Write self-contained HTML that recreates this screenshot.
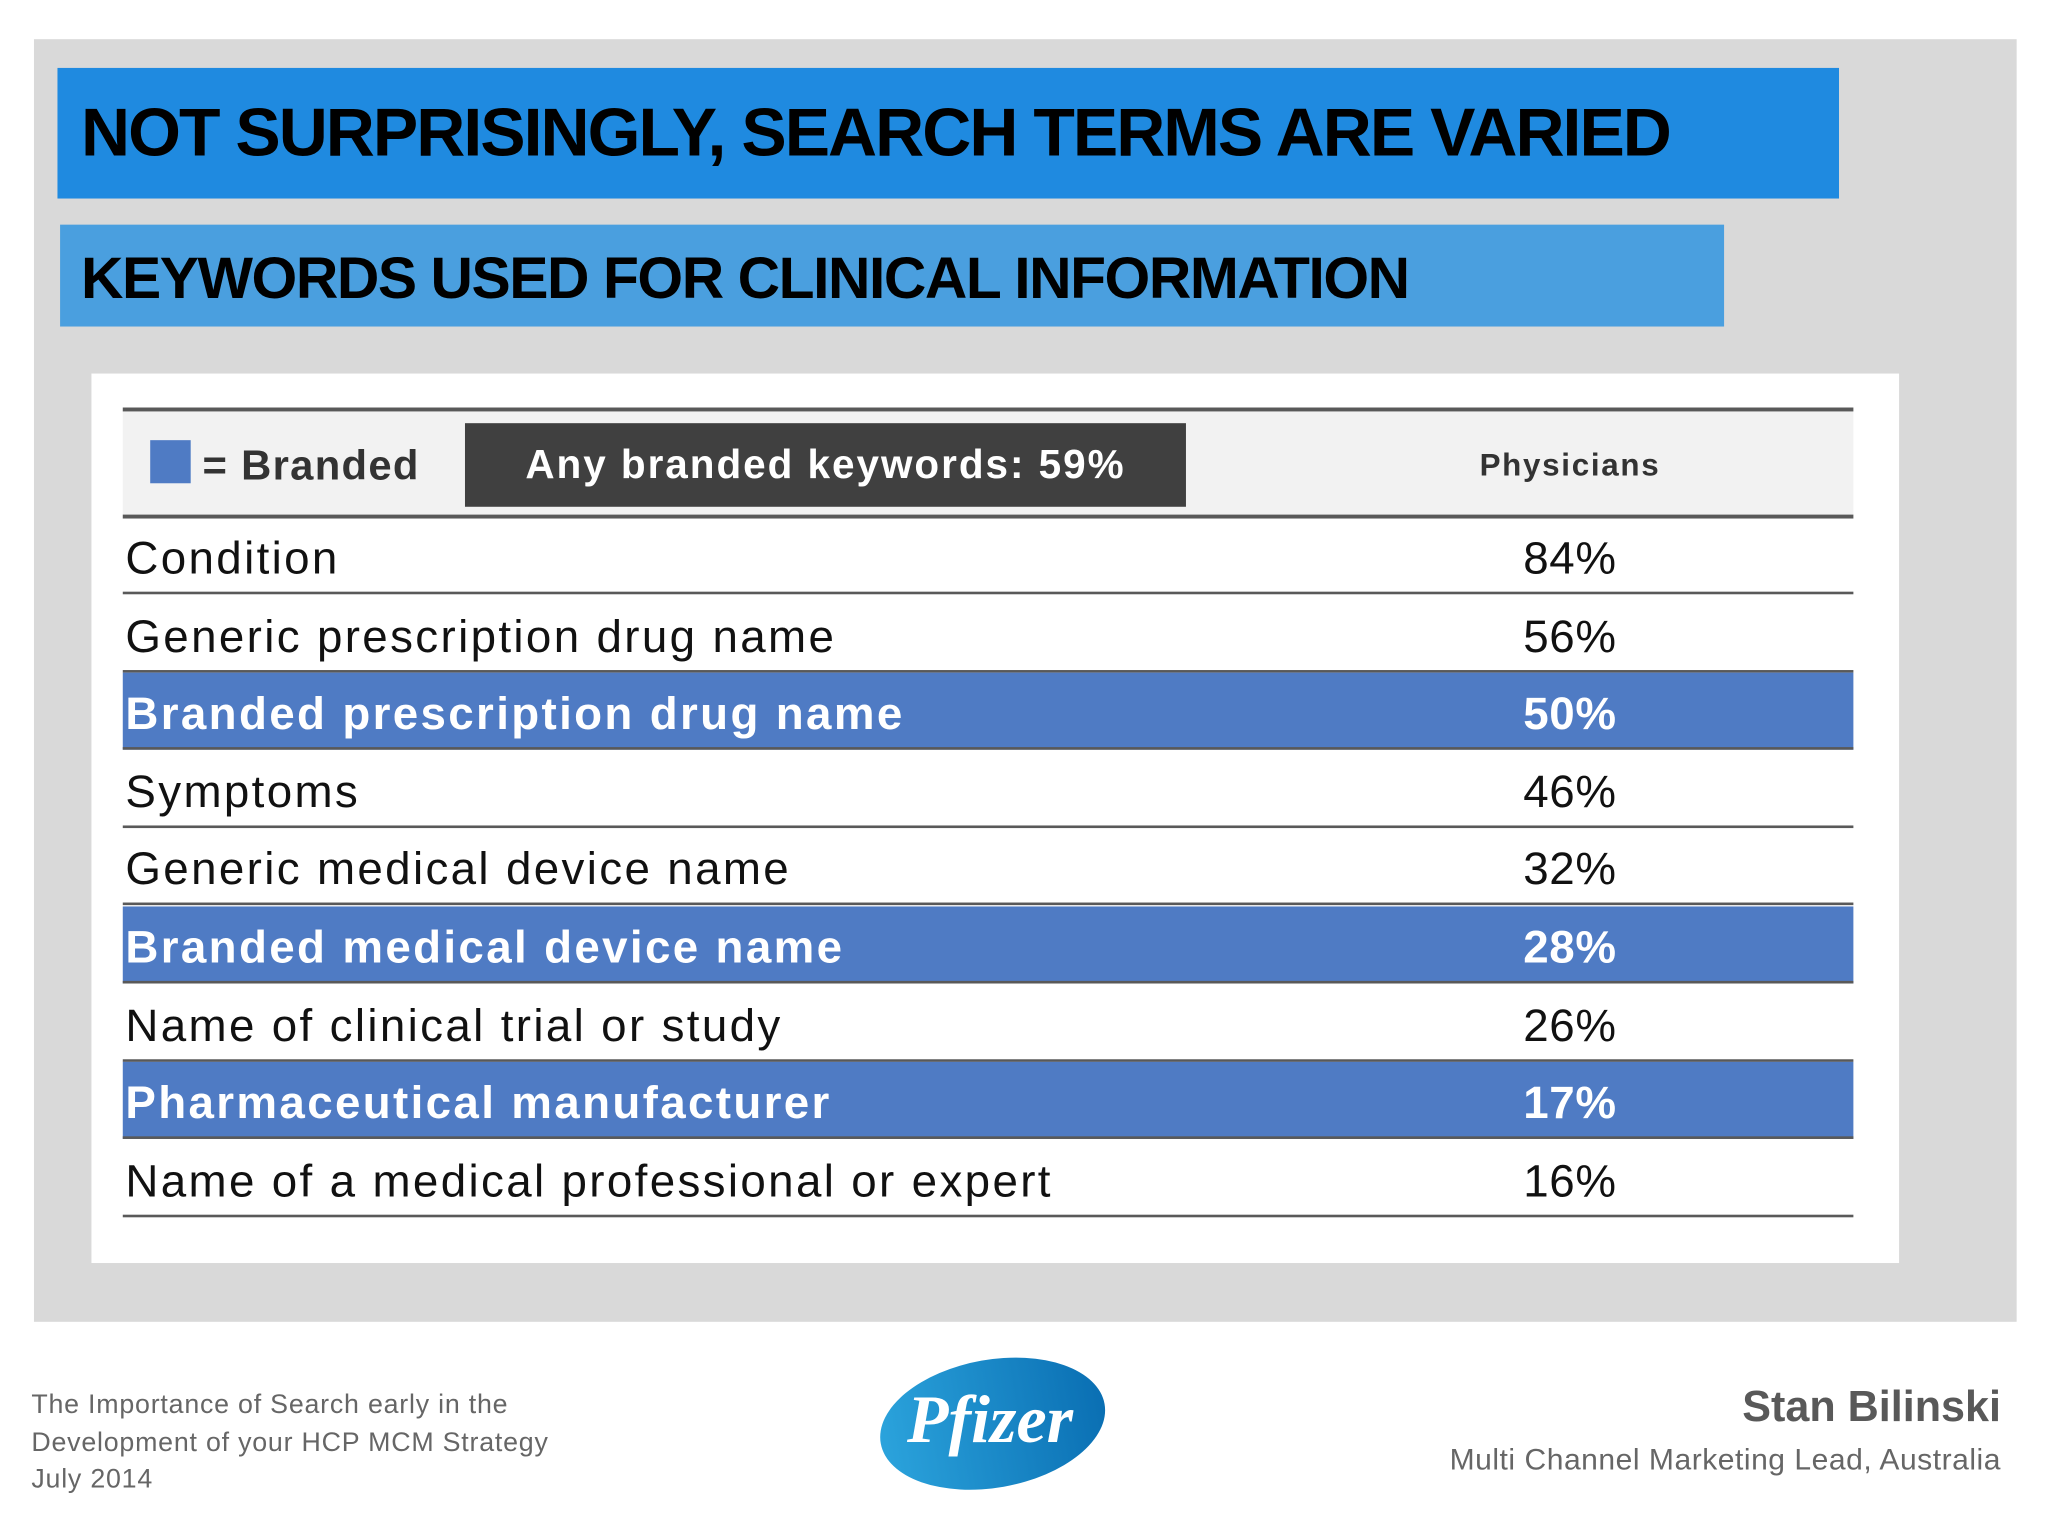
<!DOCTYPE html>
<html><head><meta charset="utf-8">
<style>
html,body{margin:0;padding:0;background:#fff;}
body{width:2048px;height:1536px;overflow:hidden;position:relative;font-family:"Liberation Sans","DejaVu Sans",sans-serif;}
#s{position:absolute;left:0;top:0;width:1568px;height:1176px;transform:scale(1.30612);transform-origin:0 0;}
.a{position:absolute;}
.row{position:absolute;left:94px;width:1325px;height:59px;border-bottom:2px solid #595959;box-sizing:border-box;}
.lab{position:absolute;left:2px;top:12px;font-size:35px;color:#111;white-space:nowrap;letter-spacing:1.8px;}
.val{position:absolute;left:1058px;width:100px;text-align:center;top:12px;font-size:35px;color:#111;letter-spacing:0.5px;}
.br{background:#4f7bc4;}
.br .lab,.br .val{color:#fff;font-weight:bold;}
</style></head><body>
<div id="s">
<div class="a" style="left:26px;top:30px;width:1518px;height:982px;background:#d9d9d9"></div>
<div class="a" style="left:44px;top:52px;width:1364px;height:100px;background:#1f8ae0"></div>
<div class="a" style="left:62px;top:72px;font-size:52px;font-weight:bold;color:#000;white-space:nowrap;letter-spacing:-1.5px">NOT SURPRISINGLY, SEARCH TERMS ARE VARIED</div>
<div class="a" style="left:46px;top:172px;width:1274px;height:78px;background:#4a9fdf"></div>
<div class="a" style="left:62px;top:187px;font-size:45px;font-weight:bold;color:#000;white-space:nowrap;letter-spacing:-1.1px">KEYWORDS USED FOR CLINICAL INFORMATION</div>
<div class="a" style="left:70px;top:286px;width:1384px;height:681px;background:#fff"></div>
<div class="a" style="left:94px;top:312px;width:1325px;height:85px;background:#f2f2f2;border-top:3px solid #595959;border-bottom:3px solid #595959;box-sizing:border-box"></div>
<div class="a" style="left:115px;top:337px;width:31px;height:33px;background:#4f7bc4"></div>
<div class="a" style="left:155px;top:338px;font-size:32px;font-weight:bold;color:#333;white-space:nowrap;letter-spacing:1px">= Branded</div>
<div class="a" style="left:356px;top:324px;width:552px;height:64px;background:#404040;color:#fff;font-size:31px;font-weight:bold;text-align:center;line-height:64px;white-space:nowrap;letter-spacing:1.5px">Any branded keywords: 59%</div>
<div class="a" style="left:1102px;top:343px;width:200px;text-align:center;font-size:24px;font-weight:bold;color:#333;letter-spacing:1.3px">Physicians</div>
<div id="rows"></div>
<div class="a" style="left:24px;top:1062px;font-size:20.5px;line-height:28.5px;color:#666;white-space:nowrap;letter-spacing:0.6px">The Importance of Search early in the<br>Development of your HCP MCM Strategy<br>July 2014</div>
<svg class="a" style="left:670px;top:1038px" width="180" height="105" viewBox="0 0 180 105">
<defs><linearGradient id="g" x1="0" y1="0" x2="1" y2="0"><stop offset="0" stop-color="#2ba3dc"/><stop offset="1" stop-color="#0a6fb3"/></linearGradient></defs>
<ellipse cx="90" cy="52" rx="87" ry="49" fill="url(#g)" transform="rotate(-10 90 52)"/>
<text x="88" y="66" text-anchor="middle" font-size="52" font-weight="bold" font-style="italic" fill="#fff" font-family="Liberation Serif,serif">Pfizer</text>
</svg>
<div class="a" style="right:36px;top:1058px;font-size:33px;font-weight:bold;color:#595959;white-space:nowrap">Stan Bilinski</div>
<div class="a" style="right:36px;top:1104px;font-size:23px;color:#666;white-space:nowrap;letter-spacing:0.4px">Multi Channel Marketing Lead, Australia</div>
</div>
<script>
const categories=["Condition","Generic prescription drug name","Branded prescription drug name","Symptoms","Generic medical device name","Branded medical device name","Name of clinical trial or study","Pharmaceutical manufacturer","Name of a medical professional or expert"];
const values=[84,56,50,46,32,28,26,17,16];
const branded=[false,false,true,false,false,true,false,true,false];
const c=document.getElementById('rows');
for(let i=0;i<categories.length;i++){
 const r=document.createElement('div');
 r.className='row'+(branded[i]?' br':'');
 r.style.top=(396+i*59.6)+'px';
 
 
 const l=document.createElement('div');l.className='lab';l.textContent=categories[i];
 
 
 const v=document.createElement('div');v.className='val';v.textContent=values[i]+'%';
 
 
 r.appendChild(l);r.appendChild(v);c.appendChild(r);
}
</script>
</body></html>
